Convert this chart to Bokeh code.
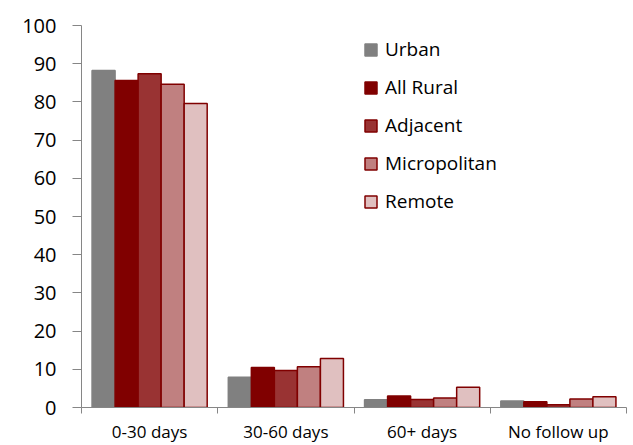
from bokeh.plotting import figure
from bokeh.models import ColumnDataSource, FixedTicker, Range1d, Legend, LegendItem
from bokeh.embed import file_html
from bokeh.resources import INLINE

categories = ["0-30 days", "30-60 days", "60+ days", "No follow up"]
series_names = ["Urban", "All Rural", "Adjacent", "Micropolitan", "Remote"]
urban = [88.2, 7.9, 2.0, 1.7]
all_rural = [85.6, 10.5, 3.0, 1.5]
adjacent = [87.4, 9.7, 2.1, 0.7]
micropolitan = [84.6, 10.7, 2.5, 2.2]
remote = [79.6, 12.8, 5.3, 2.8]
y_ticks = [0, 10, 20, 30, 40, 50, 60, 70, 80, 90, 100]

series_values = [urban, all_rural, adjacent, micropolitan, remote]
fills = ["#808080", "#800000", "#993333", "#C08080", "#E0C0C0"]
lines = ["#808080", "#800000", "#800000", "#800000", "#800000"]

FONT = "Open Sans"
AXIS_COLOR = "#868686"

p = figure(width=633, height=445, output_backend="svg", toolbar_location=None,
           x_range=Range1d(0, len(categories)), y_range=Range1d(0, 100),
           min_border_left=81, min_border_right=7, min_border_top=25, min_border_bottom=38)
p.outline_line_color = None
p.xgrid.visible = False
p.ygrid.visible = False
p.background_fill_color = "white"

group_w = 0.845
bar_w = group_w / len(series_names)
items = []
for i, (name, vals) in enumerate(zip(series_names, series_values)):
    xs = [k + 0.5 + (i - 2) * bar_w for k in range(len(categories))]
    src = ColumnDataSource(dict(x=xs, top=vals))
    r = p.vbar(x="x", top="top", bottom=0, width=bar_w, source=src,
               fill_color=fills[i], line_color=lines[i], line_width=1.5)
    items.append(LegendItem(label=name, renderers=[r]))

legend = Legend(items=items, location=(282, 193), padding=0, margin=0,
                border_line_alpha=0, background_fill_alpha=0,
                glyph_width=15, glyph_height=15, label_height=24, spacing=12,
                label_standoff=7, label_text_font=FONT, label_text_font_size="19px",
                label_text_color="#000000")
p.add_layout(legend)

# y axis
p.yaxis.ticker = FixedTicker(ticks=y_ticks)
p.yaxis.axis_line_color = AXIS_COLOR
p.yaxis.major_tick_line_color = AXIS_COLOR
p.yaxis.major_tick_out = 9
p.yaxis.major_tick_in = 0
p.yaxis.minor_tick_line_color = None
p.yaxis.major_label_text_font = FONT
p.yaxis.major_label_text_font_size = "20px"
p.yaxis.major_label_text_color = "#000000"
p.yaxis.major_label_standoff = 16

# x axis: labels at centers, ticks at boundaries
centers = [k + 0.5 for k in range(len(categories))]
p.xaxis.ticker = FixedTicker(ticks=centers, minor_ticks=list(range(len(categories) + 1)))
p.xaxis.major_label_overrides = {c: lab for c, lab in zip(centers, categories)}
p.xaxis.axis_line_color = AXIS_COLOR
p.xaxis.major_tick_line_color = None
p.xaxis.minor_tick_line_color = AXIS_COLOR
p.xaxis.minor_tick_out = 6
p.xaxis.minor_tick_in = 0
p.xaxis.major_label_text_font = FONT
p.xaxis.major_label_text_font_size = "17px"
p.xaxis.major_label_text_color = "#000000"
p.xaxis.major_label_standoff = 6

open("out.html", "w").write(file_html(p, INLINE))
